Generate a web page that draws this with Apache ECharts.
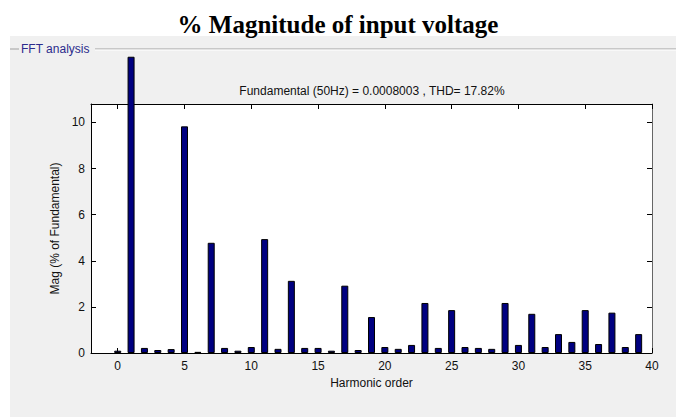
<!DOCTYPE html>
<html>
<head>
<meta charset="utf-8">
<script src="https://cdn.jsdelivr.net/npm/echarts@6/dist/echarts.min.js"></script>
<style>
  html, body { margin: 0; padding: 0; background: #fff; }
  #chart { width: 676px; height: 417px; }
</style>
</head>
<body>
<div id="chart"></div>
<script>
// harmonic orders and magnitudes (% of fundamental)
const harmonics = [0, 1, 2, 3, 4, 5, 6, 7, 8, 9, 10, 11, 12, 13, 14, 15, 16, 17, 18, 19,
  20, 21, 22, 23, 24, 25, 26, 27, 28, 29, 30, 31, 32, 33, 34, 35, 36, 37, 38, 39];
const magnitudes = [0.1, 12.85, 0.22, 0.13, 0.17, 9.83, 0.05, 4.78, 0.22, 0.1,
  0.26, 4.94, 0.18, 3.13, 0.22, 0.22, 0.1, 2.92, 0.13, 1.56,
  0.26, 0.18, 0.35, 2.17, 0.22, 1.86, 0.26, 0.22, 0.18, 2.17,
  0.35, 1.7, 0.26, 0.82, 0.48, 1.86, 0.39, 1.75, 0.26, 0.82];
const xTicks = [0, 5, 10, 15, 20, 25, 30, 35, 40];
const yTicks = [0, 2, 4, 6, 8, 10];

const chart = echarts.init(document.getElementById('chart'), null, { renderer: 'svg' });

const tickStyle = { show: true, inside: true, length: 5, lineStyle: { color: '#000' } };
const font = 'Arial, "Liberation Sans", sans-serif';

let option = {
  backgroundColor: '#ffffff',
  animation: false,
  title: {
    text: '% Magnitude of input voltage',
    left: 'center',
    top: 7,
    textStyle: { fontFamily: '"Times New Roman", "Liberation Serif", serif', fontSize: 25, fontWeight: 'bold', color: '#000' }
  },
  graphic: [
    { type: 'rect', z: -10, shape: { x: 10, y: 36, width: 666, height: 381 }, style: { fill: '#f0f0f0' } },
    { type: 'line', z: -5, shape: { x1: 10, y1: 49, x2: 19, y2: 49 }, style: { stroke: '#a0a0a0', lineWidth: 1 } },
    { type: 'line', z: -5, shape: { x1: 95, y1: 49, x2: 676, y2: 49 }, style: { stroke: '#a0a0a0', lineWidth: 1 } },
    { type: 'line', z: -5, shape: { x1: 95, y1: 50, x2: 676, y2: 50 }, style: { stroke: '#ffffff', lineWidth: 1 } },
    { type: 'text', x: 21, y: 49, style: { text: 'FFT analysis', fontSize: 12, fontFamily: font, fill: '#2b2b8c', verticalAlign: 'middle' } },
    { type: 'rect', z: -8, shape: { x: 91, y: 104, width: 561, height: 249 }, style: { fill: '#ffffff' } },
    { type: 'text', x: 372, y: 91, style: { text: 'Fundamental (50Hz) = 0.0008003 , THD= 17.82%', fontSize: 12, fontFamily: font, fill: '#111', align: 'center', verticalAlign: 'middle' } }
  ],
  grid: { left: 91, top: 104, width: 561, height: 249 },
  xAxis: [
    {
      type: 'value', min: -2, max: 40,
      name: 'Harmonic order', nameLocation: 'middle', nameGap: 22,
      nameTextStyle: { fontFamily: font, fontSize: 12, color: '#111' },
      axisLine: { show: true, onZero: false, lineStyle: { color: '#000' } },
      axisTick: Object.assign({ customValues: xTicks }, tickStyle),
      axisLabel: { customValues: xTicks, fontFamily: font, fontSize: 12, color: '#111', margin: 7 },
      splitLine: { show: false }
    },
    {
      type: 'value', position: 'top', min: -2, max: 40,
      axisLine: { show: true, onZero: false, lineStyle: { color: '#000' } },
      axisTick: Object.assign({ customValues: xTicks }, tickStyle),
      axisLabel: { show: false },
      splitLine: { show: false }
    }
  ],
  yAxis: [
    {
      type: 'value', min: 0, max: 10.8,
      name: 'Mag (% of Fundamental)', nameLocation: 'middle', nameGap: 24,
      nameTextStyle: { fontFamily: font, fontSize: 12, color: '#111' },
      axisLine: { show: true, onZero: false, lineStyle: { color: '#000' } },
      axisTick: Object.assign({ customValues: yTicks }, tickStyle),
      axisLabel: { customValues: yTicks, fontFamily: font, fontSize: 12, color: '#111', margin: 6 },
      splitLine: { show: false }
    },
    {
      type: 'value', position: 'right', min: 0, max: 10.8,
      axisLine: { show: true, onZero: false, lineStyle: { color: '#666' } },
      axisTick: Object.assign({ customValues: yTicks }, tickStyle),
      axisLabel: { show: false },
      splitLine: { show: false }
    }
  ],
  series: [
    {
      type: 'bar',
      clip: false,
      barWidth: 7,
      itemStyle: { color: '#000080', borderColor: '#000', borderWidth: 1 },
      data: harmonics.map((h, i) => [h, magnitudes[i]])
    }
  ]
};

chart.setOption(option);
</script>
</body>
</html>
